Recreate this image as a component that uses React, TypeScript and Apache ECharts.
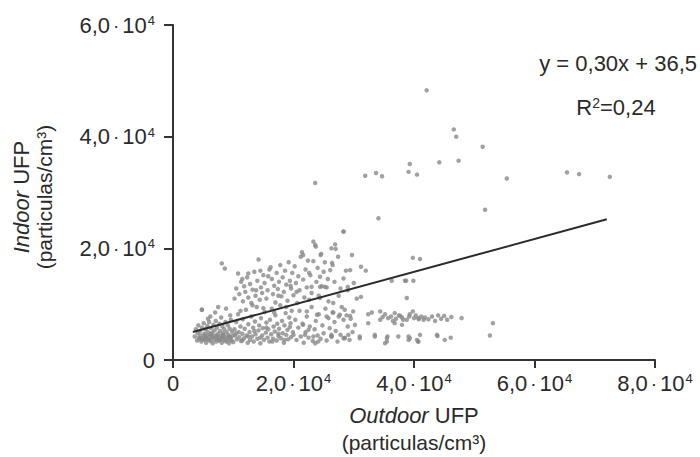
import React, { useEffect, useRef } from "react";
import * as echarts from "echarts";

// values in units of 10^4 particles/cm³
const xTicks = [0, 2, 4, 6, 8];
const yTicks = [0, 2, 4, 6];

const cloudLow: number[][] = [
  [0.36,0.42],[0.38,0.55],[0.40,0.35],[0.41,0.48],[0.42,0.62],[0.44,0.38],[0.45,0.52],[0.46,0.44],[0.47,0.33],[0.48,0.58],
  [0.50,0.40],[0.51,0.66],[0.52,0.47],[0.53,0.36],[0.54,0.55],[0.55,0.31],[0.56,0.43],[0.57,0.61],[0.58,0.50],[0.59,0.38],
  [0.60,0.68],[0.61,0.45],[0.62,0.34],[0.63,0.57],[0.64,0.41],[0.65,0.49],[0.66,0.30],[0.67,0.63],[0.68,0.37],[0.69,0.53],
  [0.70,0.44],[0.71,0.70],[0.72,0.33],[0.73,0.58],[0.74,0.40],[0.75,0.47],[0.76,0.35],[0.77,0.65],[0.78,0.52],[0.79,0.39],
  [0.80,0.43],[0.81,0.31],[0.82,0.60],[0.83,0.48],[0.84,0.36],[0.85,0.55],[0.86,0.42],[0.87,0.68],[0.88,0.33],[0.89,0.50],
  [0.90,0.39],[0.91,0.62],[0.92,0.45],[0.93,0.30],[0.94,0.56],[0.95,0.41],[0.96,0.72],[0.97,0.35],[0.98,0.51],[0.99,0.44],
  [0.43,0.40],[0.49,0.37],[0.55,0.39],[0.60,0.36],[0.66,0.41],[0.72,0.38],[0.78,0.36],[0.84,0.40],[0.90,0.35],[0.96,0.38],
  [0.53,0.44],[0.63,0.46],[0.73,0.43],[0.83,0.45],[0.93,0.42],
  [0.48,0.90],[0.62,0.78],[0.70,0.85],[0.80,0.76],[0.88,0.92],[0.95,0.80],[0.58,0.74],[0.75,0.95],
];

const cloudMid: number[][] = [
  [1.00,0.32],[1.02,0.55],[1.03,0.44],[1.05,0.68],[1.06,0.37],[1.08,0.82],[1.09,0.50],[1.10,0.41],[1.12,0.60],[1.13,0.34],
  [1.15,0.47],[1.16,0.73],[1.18,0.39],[1.19,0.56],[1.21,0.90],[1.22,0.44],[1.24,0.31],[1.25,0.64],[1.27,0.50],[1.28,0.36],
  [1.30,0.78],[1.31,0.42],[1.33,0.58],[1.34,0.33],[1.36,0.69],[1.37,0.46],[1.39,0.95],[1.40,0.38],[1.42,0.53],[1.43,0.62],
  [1.45,0.30],[1.46,0.75],[1.48,0.44],[1.49,0.57],[1.51,0.36],[1.52,0.86],[1.54,0.49],[1.55,0.67],[1.57,0.40],[1.58,0.55],
  [1.60,0.33],[1.61,0.72],[1.63,0.46],[1.64,0.92],[1.66,0.38],[1.67,0.60],[1.69,0.51],[1.70,0.80],[1.72,0.35],[1.73,0.65],
  [1.75,0.43],[1.76,0.56],[1.78,0.98],[1.79,0.39],[1.81,0.70],[1.82,0.48],[1.84,0.31],[1.85,0.62],[1.87,0.84],[1.88,0.45],
  [1.90,0.54],[1.91,0.37],[1.93,0.76],[1.94,0.59],[1.96,0.41],[1.97,0.88],[1.99,0.50],
  [1.05,0.48],[1.15,0.35],[1.25,0.42],[1.35,0.52],[1.45,0.40],[1.55,0.58],[1.65,0.33],[1.75,0.47],[1.85,0.36],[1.95,0.66],
  [1.12,0.88],[1.32,0.98],[1.50,0.93],[1.68,0.85],[1.88,0.95],
];

const cloudHigh: number[][] = [
  [0.81,1.73],[0.86,1.64],[0.48,0.90],
  [1.02,1.10],[1.05,1.28],[1.08,1.55],[1.10,1.18],[1.13,1.40],[1.16,1.05],[1.18,1.32],[1.20,1.22],[1.23,1.48],[1.25,1.12],
  [1.28,1.36],[1.30,1.02],[1.32,1.26],[1.35,1.58],[1.37,1.15],[1.40,1.42],[1.42,1.80],[1.44,1.08],[1.46,1.30],[1.48,1.20],
  [1.50,1.52],[1.52,1.38],[1.55,1.10],[1.57,1.25],[1.60,1.62],[1.62,1.66],[1.64,1.45],[1.66,1.18],[1.68,1.33],[1.70,1.03],
  [1.72,1.56],[1.74,1.27],[1.76,1.40],[1.78,1.70],[1.80,1.14],[1.82,1.48],[1.84,1.22],[1.86,1.60],[1.88,1.35],[1.90,1.06],
  [1.92,1.75],[1.94,1.42],[1.96,1.28],[1.98,1.56],[2.00,1.16],[2.02,1.68],[2.04,1.38],[2.06,1.02],[2.08,1.50],[2.10,1.25],
  [2.12,1.85],[2.14,1.93],[2.16,1.44],[2.18,1.12],[2.20,1.62],[2.22,1.30],[2.24,1.78],[2.26,1.08],[2.28,1.52],[2.30,1.20],
  [2.33,2.12],[2.33,1.77],[2.36,2.06],[2.37,2.03],[2.38,1.40],[2.40,1.65],[2.42,1.15],[2.45,1.88],[2.47,1.32],[2.50,1.58],
  [1.15,1.45],[1.38,1.25],[1.58,1.50],[1.75,1.15],[1.95,1.33],[2.05,1.22],[1.45,1.60],[1.25,1.55],
  [2.63,2.00],[2.69,2.07],[2.70,1.99],[2.74,1.85],[2.97,1.88],[2.61,1.61],[2.65,1.70],[2.94,1.61],[2.87,1.60],[2.83,1.46],
  [2.83,2.30],[3.12,1.67],[3.20,1.60],[2.55,1.30],[2.75,1.15],[2.58,1.05],[2.90,1.25],[3.05,1.10],[2.68,1.40],[3.00,1.38],
  [2.52,1.75],[2.78,1.28],[2.16,1.88],[2.46,1.90],[2.64,1.74],[2.44,1.49],[2.26,1.56],[2.57,1.45],
  [2.30,1.31],[2.44,1.31],[2.52,1.31],[2.90,1.31],[3.12,1.13],[2.66,1.02],[2.44,1.11],
];

const cloudRight: number[][] = [
  [2.00,0.45],[2.03,0.72],[2.05,0.36],[2.08,0.58],[2.10,0.88],[2.12,0.42],[2.15,0.65],[2.17,0.31],[2.20,0.50],[2.22,0.78],
  [2.25,0.40],[2.27,0.60],[2.30,0.95],[2.32,0.34],[2.35,0.55],[2.37,0.70],[2.40,0.44],[2.42,0.82],[2.45,0.38],[2.48,0.62],
  [2.50,0.48],[2.53,0.92],[2.55,0.35],[2.58,0.75],[2.60,0.57],[2.63,0.42],[2.65,0.85],[2.68,0.68],[2.70,0.52],[2.73,0.33],
  [2.75,0.78],[2.78,0.45],[2.80,0.95],[2.83,0.72],[2.85,0.40],[2.88,0.80],[2.90,0.60],[2.93,0.36],[2.95,0.74],[2.98,0.50],
  [2.22,0.87],[2.39,0.81],[2.55,0.78],[2.66,0.85],[2.77,0.81],[2.85,0.90],[2.94,0.79],[2.99,0.87],[3.24,0.82],[3.30,0.85],
  [3.44,0.87],[3.57,0.75],[3.68,0.84],[3.77,0.79],[3.82,0.72],[3.93,0.82],[3.98,0.87],[4.07,0.75],[4.16,0.72],[4.24,0.73],
  [2.16,0.63],[2.25,0.54],[2.33,0.42],[2.41,0.33],[2.63,0.42],[2.83,0.39],[2.91,0.45],[3.02,0.63],[3.10,0.39],[3.24,0.66],
  [3.35,0.42],[3.44,0.72],[3.56,0.42],[3.68,0.66],[3.80,0.63],[3.93,0.39],[4.07,0.33],[3.55,0.33],[2.19,0.45],[2.36,0.30],
  [2.63,0.45],[2.85,0.39],[3.10,0.42],[3.35,0.45],[3.52,0.30],[3.74,0.42],[3.91,0.36],[4.07,0.33],[4.38,0.45],[4.51,0.36],
  [3.62,0.78],[3.70,0.74],[3.75,0.80],[3.80,0.76],[3.88,0.72],[3.92,0.78],[4.00,0.75],[4.03,0.80],[4.08,0.73],[4.12,0.78],
  [4.18,0.76],[3.65,0.70],[3.48,0.77],[3.52,0.82],
  [4.30,0.78],[4.35,0.70],[4.40,0.80],[4.45,0.74],[4.50,0.79],[4.55,0.72],[4.62,0.77],[4.79,0.75],[5.31,0.66],[5.26,0.44],
  [3.55,0.39],[3.91,0.42],[4.05,0.36],[4.10,0.45],[4.39,0.43],[4.61,0.40],
];

const outliers: number[][] = [
  [2.36,3.17],[3.19,3.30],[3.37,3.35],[3.47,3.29],[3.91,3.37],[3.93,3.51],[4.05,3.32],[4.42,3.54],[4.74,3.57],
  [4.21,4.83],[4.66,4.13],[4.70,4.00],[5.14,3.82],[5.54,3.25],[6.54,3.36],[6.74,3.33],[7.25,3.28],
  [3.41,2.54],[5.18,2.69],[2.83,2.30],[3.98,1.83],[4.10,1.81],[3.63,1.42],[3.87,1.42],[3.99,1.42],
  [3.88,1.11],[3.85,1.42],
];

const fitX = [0.33, 7.2];
const fitY = [0.5, 2.52];

const FONT = '"Liberation Sans", Arial, Helvetica, sans-serif';
const TXT = "#2a2a2a";

function tickFormatter(v: number): string {
  if (v === 0) return "{a|0}";
  return `{a|${v},0}{d|·}{a|10}{s|4}`;
}

const labelRich = {
  a: { fontSize: 22, fontFamily: FONT, color: TXT },
  d: { fontSize: 19, fontFamily: FONT, color: TXT, padding: [0, 3, 0, 3] },
  s: { fontSize: 13, fontFamily: FONT, color: TXT, verticalAlign: "top", padding: [0, 0, 0, 1] },
};

export default function App() {
  const ref = useRef<HTMLDivElement>(null);
  useEffect(() => {
    if (!ref.current) return;
    const chart = echarts.init(ref.current, undefined, { renderer: "svg" });
    const all = [...cloudLow, ...cloudMid, ...cloudHigh, ...cloudRight, ...outliers];
    chart.setOption({
      animation: false,
      backgroundColor: "#ffffff",
      grid: { left: 173, right: 45, top: 25, bottom: 97 },
      xAxis: {
        type: "value",
        min: xTicks[0],
        max: xTicks[xTicks.length - 1],
        interval: 2,
        splitLine: { show: false },
        axisLine: { show: true, lineStyle: { color: "#333", width: 2 } },
        axisTick: { show: true, length: 8, lineStyle: { color: "#333", width: 2 } },
        axisLabel: { margin: 12, formatter: tickFormatter, rich: labelRich },
      },
      yAxis: {
        type: "value",
        min: yTicks[0],
        max: yTicks[yTicks.length - 1],
        interval: 2,
        splitLine: { show: false },
        axisLine: { show: true, lineStyle: { color: "#333", width: 2 } },
        axisTick: { show: true, length: 9, lineStyle: { color: "#333", width: 2 } },
        axisLabel: { margin: 18, formatter: tickFormatter, rich: labelRich },
      },
      series: [
        {
          type: "scatter",
          data: all,
          symbol: "circle",
          symbolSize: 4.5,
          itemStyle: { color: "#8a8a8a" },
        },
        {
          type: "line",
          data: [[fitX[0], fitY[0]], [fitX[1], fitY[1]]],
          symbol: "none",
          lineStyle: { color: "#2b2b2b", width: 2 },
          z: 3,
        },
      ],
      graphic: [
        {
          type: "text",
          x: 21,
          y: 197,
          rotation: Math.PI / 2,
          style: {
            text: "{i|Indoor} {n|UFP}",
            align: "center",
            verticalAlign: "middle",
            fill: TXT,
            font: `22px ${FONT}`,
            rich: {
              i: { font: `italic 22px ${FONT}`, fill: TXT },
              n: { font: `22px ${FONT}`, fill: TXT },
            },
          },
        },
        {
          type: "text",
          x: 44,
          y: 197,
          rotation: Math.PI / 2,
          style: {
            text: "(particulas/cm³)",
            align: "center",
            verticalAlign: "middle",
            fill: TXT,
            font: `21px ${FONT}`,
          },
        },
        {
          type: "text",
          x: 414,
          y: 415,
          style: {
            text: "{i|Outdoor} {n|UFP}",
            align: "center",
            verticalAlign: "middle",
            fill: TXT,
            font: `22px ${FONT}`,
            rich: {
              i: { font: `italic 22px ${FONT}`, fill: TXT },
              n: { font: `22px ${FONT}`, fill: TXT },
            },
          },
        },
        {
          type: "text",
          x: 414,
          y: 442,
          style: {
            text: "(particulas/cm³)",
            align: "center",
            verticalAlign: "middle",
            fill: TXT,
            font: `21px ${FONT}`,
          },
        },
        {
          type: "text",
          x: 697,
          y: 63,
          style: {
            text: "y = 0,30x + 36,5",
            align: "right",
            verticalAlign: "middle",
            fill: TXT,
            font: `22px ${FONT}`,
          },
        },
        {
          type: "text",
          x: 616,
          y: 107,
          style: {
            text: "{a|R}{s|2}{a|=0,24}",
            align: "center",
            verticalAlign: "middle",
            fill: TXT,
            font: `22px ${FONT}`,
            rich: {
              a: { font: `22px ${FONT}`, fill: TXT },
              s: { font: `14px ${FONT}`, fill: TXT, verticalAlign: "top" },
            },
          },
        },
      ],
    });
    return () => chart.dispose();
  }, []);
  return <div ref={ref} style={{ width: 700, height: 457, position: "fixed", left: 0, top: 0 }} />;
}
